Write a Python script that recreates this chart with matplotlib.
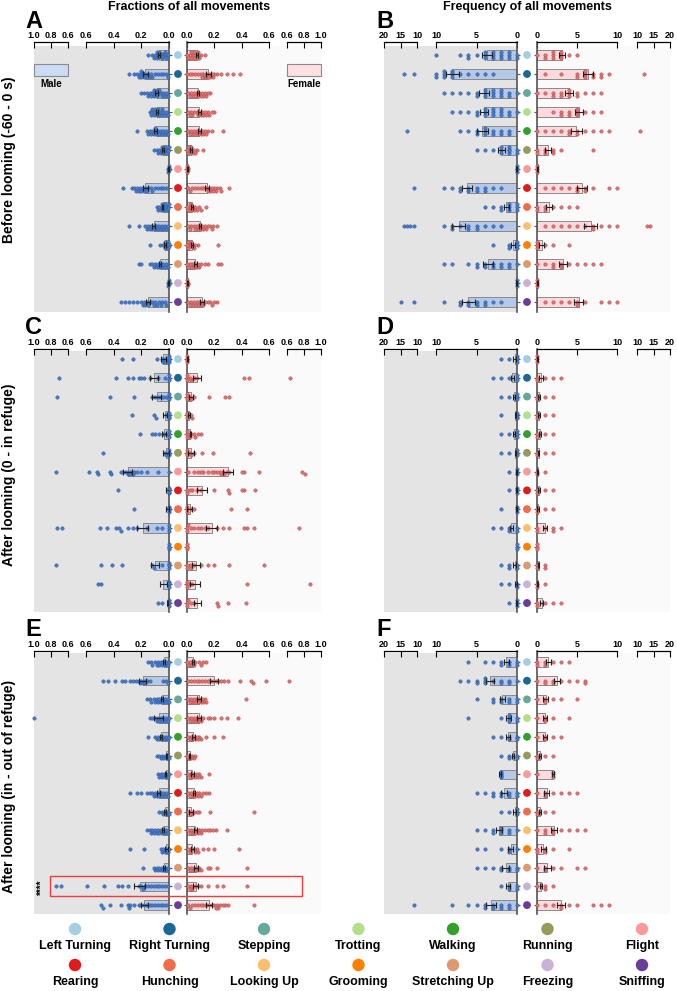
import numpy as np
import matplotlib
matplotlib.use('Agg')
import matplotlib.pyplot as plt
from matplotlib.patches import Rectangle

plt.rcParams['font.family'] = ['Liberation Sans', 'DejaVu Sans']
plt.rcParams['font.weight'] = 'bold'

W, H = 677, 991
fig = plt.figure(figsize=(W / 100, H / 100), dpi=100)

behaviors = ['Left Turning', 'Right Turning', 'Stepping', 'Trotting', 'Walking', 'Running', 'Flight',
             'Rearing', 'Hunching', 'Looking Up', 'Grooming', 'Stretching Up', 'Freezing', 'Sniffing']
beh_colors = ['#a6cee3', '#1a6896', '#66a99b', '#b2df8a', '#33a02c', '#969b5c', '#fb9a99',
              '#e31a1c', '#f26b4a', '#fdbf6f', '#ff7f00', '#dd9a6e', '#cab2d6', '#6a3d9a']

# ---------------- Panel A: fractions, before looming ----------------
A_male = [
    [0.15, 0.12, 0.11, 0.10, 0.09, 0.09, 0.08, 0.08, 0.07, 0.07, 0.07, 0.06, 0.06, 0.05, 0.05, 0.04, 0.04, 0.03, 0.03, 0.02, 0.02, 0.01],
    [0.29, 0.25, 0.23, 0.22, 0.21, 0.20, 0.20, 0.19, 0.19, 0.18, 0.17, 0.16, 0.15, 0.14, 0.13, 0.12, 0.10, 0.08, 0.06, 0.04, 0.02, 0.01],
    [0.20, 0.18, 0.16, 0.15, 0.14, 0.13, 0.12, 0.11, 0.11, 0.10, 0.09, 0.09, 0.08, 0.08, 0.07, 0.06, 0.05, 0.04, 0.03, 0.02, 0.01],
    [0.14, 0.13, 0.12, 0.12, 0.11, 0.10, 0.10, 0.09, 0.08, 0.08, 0.07, 0.06, 0.05, 0.05, 0.04, 0.03, 0.02, 0.01],
    [0.23, 0.16, 0.15, 0.14, 0.13, 0.12, 0.11, 0.10, 0.10, 0.09, 0.08, 0.07, 0.06, 0.05, 0.04, 0.03, 0.02, 0.01],
    [0.11, 0.09, 0.08, 0.07, 0.06, 0.05, 0.05, 0.04, 0.03, 0.03, 0.02, 0.02, 0.01, 0.01, 0.0],
    [0.01, 0.01, 0.0, 0.0, 0.0, 0.0, 0.0],
    [0.33, 0.27, 0.25, 0.24, 0.23, 0.22, 0.21, 0.20, 0.19, 0.18, 0.17, 0.16, 0.15, 0.13, 0.12, 0.10, 0.08, 0.06, 0.04, 0.02],
    [0.09, 0.08, 0.07, 0.06, 0.05, 0.05, 0.04, 0.04, 0.03, 0.03, 0.02, 0.02, 0.01, 0.01, 0.0],
    [0.29, 0.22, 0.17, 0.16, 0.15, 0.14, 0.13, 0.12, 0.11, 0.10, 0.09, 0.08, 0.07, 0.06, 0.05, 0.04, 0.03, 0.02, 0.01],
    [0.14, 0.065, 0.04, 0.03, 0.03, 0.02, 0.02, 0.01, 0.01, 0.01, 0.0, 0.0],
    [0.22, 0.20, 0.14, 0.12, 0.11, 0.10, 0.09, 0.08, 0.07, 0.06, 0.05, 0.04, 0.03, 0.02, 0.01],
    [0.01, 0.005, 0.0, 0.0, 0.0, 0.0],
    [0.35, 0.32, 0.29, 0.26, 0.23, 0.20, 0.19, 0.18, 0.17, 0.16, 0.15, 0.14, 0.12, 0.11, 0.10, 0.09, 0.07, 0.06, 0.05, 0.03, 0.02],
]
A_female = [
    [0.13, 0.10, 0.09, 0.08, 0.08, 0.07, 0.06, 0.06, 0.05, 0.05, 0.04, 0.03, 0.03, 0.02, 0.01, 0.0],
    [0.39, 0.34, 0.29, 0.25, 0.22, 0.20, 0.19, 0.18, 0.17, 0.16, 0.15, 0.14, 0.13, 0.12, 0.11, 0.10, 0.08, 0.06, 0.04, 0.02, 0.0],
    [0.17, 0.15, 0.14, 0.13, 0.12, 0.11, 0.10, 0.09, 0.08, 0.07, 0.06, 0.05, 0.04, 0.03, 0.02, 0.01],
    [0.20, 0.18, 0.16, 0.15, 0.14, 0.13, 0.12, 0.11, 0.10, 0.09, 0.08, 0.07, 0.05, 0.04, 0.03, 0.02, 0.01],
    [0.26, 0.18, 0.15, 0.14, 0.13, 0.12, 0.11, 0.10, 0.09, 0.08, 0.07, 0.06, 0.05, 0.04, 0.03, 0.02, 0.01],
    [0.12, 0.07, 0.06, 0.05, 0.04, 0.03, 0.03, 0.02, 0.02, 0.01, 0.01, 0.0],
    [0.01, 0.005, 0.0, 0.0, 0.0, 0.0],
    [0.31, 0.25, 0.24, 0.22, 0.21, 0.20, 0.19, 0.18, 0.17, 0.16, 0.15, 0.14, 0.12, 0.10, 0.08, 0.06, 0.04, 0.02, 0.01],
    [0.14, 0.10, 0.09, 0.07, 0.06, 0.05, 0.04, 0.03, 0.02, 0.02, 0.01, 0.0],
    [0.22, 0.19, 0.18, 0.17, 0.15, 0.14, 0.13, 0.12, 0.11, 0.10, 0.09, 0.08, 0.07, 0.06, 0.05, 0.03, 0.02, 0.01],
    [0.23, 0.08, 0.06, 0.05, 0.04, 0.03, 0.02, 0.02, 0.01, 0.01, 0.0],
    [0.25, 0.23, 0.155, 0.13, 0.10, 0.09, 0.08, 0.07, 0.06, 0.05, 0.04, 0.03, 0.02, 0.01, 0.0],
    [0.01, 0.005, 0.0, 0.0, 0.0],
    [0.22, 0.20, 0.18, 0.17, 0.15, 0.13, 0.12, 0.11, 0.10, 0.09, 0.08, 0.07, 0.06, 0.05, 0.04, 0.03, 0.02, 0.01],
]
A_male_mean = [0.075, 0.17, 0.09, 0.085, 0.095, 0.045, 0.004, 0.17, 0.045, 0.11, 0.03, 0.065, 0.004, 0.15]
A_male_sem = [0.008, 0.015, 0.01, 0.008, 0.01, 0.006, 0.001, 0.015, 0.005, 0.012, 0.006, 0.01, 0.001, 0.015]
A_female_mean = [0.07, 0.155, 0.08, 0.09, 0.09, 0.03, 0.004, 0.145, 0.035, 0.095, 0.035, 0.06, 0.004, 0.11]
A_female_sem = [0.007, 0.017, 0.009, 0.009, 0.011, 0.005, 0.001, 0.014, 0.006, 0.01, 0.008, 0.01, 0.001, 0.013]

# ---------------- Panel C: fractions, 0 - in refuge ----------------
C_male = [
    [0.34, 0.26, 0.09, 0.05, 0.04, 0.03, 0.02, 0.01, 0, 0, 0, 0],
    [0.71, 0.38, 0.30, 0.26, 0.22, 0.20, 0.18, 0.14, 0.08, 0.03, 0, 0, 0],
    [0.73, 0.43, 0.25, 0.12, 0.10, 0.08, 0.06, 0.04, 0.02, 0, 0, 0],
    [0.27, 0.11, 0.095, 0.02, 0, 0, 0, 0],
    [0.21, 0.12, 0.10, 0.07, 0.04, 0.02, 0, 0, 0],
    [0.48, 0.03, 0.02, 0, 0, 0, 0],
    [0.74, 0.58, 0.52, 0.51, 0.43, 0.42, 0.35, 0.33, 0.31, 0.30, 0.29, 0.28, 0.27, 0.26, 0.25, 0.23, 0.20, 0.16, 0.08, 0.0],
    [0.37, 0, 0, 0, 0, 0],
    [0.25, 0, 0, 0, 0, 0],
    [0.73, 0.67, 0.50, 0.45, 0.38, 0.36, 0.35, 0.30, 0.26, 0.23, 0.16, 0.09, 0.05, 0, 0, 0],
    [0, 0, 0, 0],
    [0.74, 0.49, 0.41, 0.34, 0.12, 0.11, 0.05, 0, 0, 0, 0],
    [0.51, 0.49, 0, 0, 0, 0],
    [0.08, 0.05, 0, 0, 0, 0],
]
C_female = [
    [0, 0, 0, 0, 0],
    [0.64, 0.45, 0.42, 0.07, 0.05, 0.03, 0.02, 0, 0, 0],
    [0.31, 0.28, 0.16, 0.05, 0.03, 0.02, 0, 0, 0],
    [0.04, 0.03, 0.01, 0, 0, 0],
    [0.10, 0.08, 0.06, 0.05, 0.03, 0.02, 0.01, 0, 0, 0],
    [0.46, 0.19, 0.11, 0.05, 0.03, 0.02, 0, 0, 0],
    [0.81, 0.78, 0.53, 0.42, 0.40, 0.31, 0.29, 0.27, 0.26, 0.25, 0.24, 0.22, 0.20, 0.18, 0.15, 0.12, 0.10, 0.08, 0.05, 0.01],
    [0.50, 0.42, 0.40, 0.31, 0.30, 0.20, 0.10, 0.07, 0.04, 0.02, 0, 0],
    [0.44, 0.32, 0.05, 0.03, 0, 0, 0],
    [0.74, 0.49, 0.44, 0.42, 0.31, 0.26, 0.22, 0.15, 0.13, 0.10, 0.08, 0.05, 0.03, 0.01, 0, 0],
    [0, 0, 0, 0],
    [0.56, 0.31, 0.20, 0.15, 0.10, 0.05, 0.03, 0.02, 0, 0],
    [0.87, 0.44, 0.04, 0.02, 0, 0, 0],
    [0.43, 0.30, 0.23, 0.22, 0.05, 0.03, 0.01, 0, 0],
]
C_male_mean = [0.04, 0.11, 0.09, 0.03, 0.035, 0.02, 0.30, 0.01, 0.01, 0.19, 0.0, 0.10, 0.04, 0.01]
C_male_sem = [0.015, 0.03, 0.035, 0.012, 0.012, 0.02, 0.035, 0.015, 0.01, 0.04, 0.0, 0.03, 0.025, 0.005]
C_female_mean = [0.003, 0.075, 0.03, 0.015, 0.025, 0.03, 0.30, 0.11, 0.02, 0.18, 0.0, 0.065, 0.06, 0.075]
C_female_sem = [0.002, 0.03, 0.015, 0.005, 0.006, 0.02, 0.04, 0.035, 0.02, 0.04, 0.0, 0.03, 0.035, 0.025]

# ---------------- Panel E: fractions, in - out of refuge ----------------
E_male = [
    [0.15, 0.13, 0.12, 0.10, 0.09, 0.08, 0.07, 0.06, 0.05, 0.04, 0.03, 0.02, 0.01, 0.0],
    [0.48, 0.44, 0.39, 0.34, 0.32, 0.28, 0.26, 0.24, 0.22, 0.21, 0.20, 0.19, 0.18, 0.17, 0.16, 0.14, 0.04, 0.02, 0.01],
    [0.16, 0.14, 0.13, 0.11, 0.10, 0.09, 0.08, 0.07, 0.06, 0.05, 0.04, 0.03, 0.02, 0.01, 0.0],
    [1.0, 0.14, 0.12, 0.10, 0.09, 0.08, 0.07, 0.06, 0.05, 0.04, 0.03, 0.02, 0.01, 0.0],
    [0.15, 0.10, 0.09, 0.08, 0.07, 0.06, 0.05, 0.04, 0.03, 0.02, 0.01, 0.0],
    [0.09, 0.07, 0.06, 0.05, 0.04, 0.03, 0.02, 0.01, 0.0],
    [0.08, 0.07, 0.06, 0.05, 0.04, 0.03, 0.02, 0.01, 0.0],
    [0.28, 0.23, 0.20, 0.16, 0.14, 0.12, 0.11, 0.10, 0.09, 0.08, 0.07, 0.06, 0.05, 0.04, 0.03, 0.02, 0.01],
    [0.07, 0.05, 0.04, 0.03, 0.02, 0.01, 0.0],
    [0.16, 0.14, 0.13, 0.12, 0.11, 0.10, 0.09, 0.08, 0.07, 0.06, 0.05, 0.04, 0.03, 0.02, 0.01],
    [0.28, 0.18, 0.06, 0.05, 0.04, 0.03, 0.02, 0.01, 0.0],
    [0.19, 0.11, 0.10, 0.09, 0.08, 0.07, 0.06, 0.05, 0.04, 0.03, 0.02, 0.01],
    [0.74, 0.68, 0.59, 0.47, 0.37, 0.34, 0.30, 0.22, 0.20, 0.19, 0.17, 0.15, 0.13, 0.11, 0.09, 0.07, 0.05, 0.03, 0.01],
    [0.49, 0.48, 0.43, 0.35, 0.30, 0.29, 0.28, 0.25, 0.22, 0.20, 0.18, 0.16, 0.14, 0.12, 0.10, 0.08, 0.06, 0.04, 0.02],
]
E_female = [
    [0.14, 0.12, 0.10, 0.09, 0.06, 0.05, 0.04, 0.03, 0.02, 0.01, 0.0],
    [0.62, 0.58, 0.48, 0.47, 0.39, 0.30, 0.27, 0.25, 0.23, 0.21, 0.19, 0.17, 0.15, 0.13, 0.11, 0.09, 0.07, 0.05, 0.03, 0.01],
    [0.43, 0.14, 0.13, 0.12, 0.11, 0.10, 0.09, 0.08, 0.07, 0.06, 0.05, 0.04, 0.03, 0.02, 0.01],
    [0.37, 0.29, 0.25, 0.20, 0.17, 0.15, 0.12, 0.10, 0.09, 0.08, 0.07, 0.06, 0.05, 0.04, 0.03, 0.02, 0.01],
    [0.26, 0.20, 0.14, 0.10, 0.09, 0.08, 0.07, 0.06, 0.05, 0.04, 0.03, 0.02, 0.01],
    [0.06, 0.05, 0.04, 0.03, 0.02, 0.01, 0.0],
    [0.16, 0.10, 0.09, 0.08, 0.07, 0.06, 0.05, 0.04, 0.03, 0.02, 0.01],
    [0.16, 0.14, 0.12, 0.10, 0.09, 0.08, 0.07, 0.06, 0.05, 0.04, 0.03, 0.02, 0.01],
    [0.49, 0.17, 0.09, 0.07, 0.05, 0.04, 0.03, 0.02, 0.01],
    [0.29, 0.21, 0.19, 0.17, 0.15, 0.13, 0.11, 0.10, 0.09, 0.08, 0.07, 0.06, 0.05, 0.04, 0.03, 0.02, 0.01],
    [0.38, 0.20, 0.15, 0.12, 0.08, 0.07, 0.06, 0.05, 0.03, 0.02, 0.01],
    [0.44, 0.22, 0.17, 0.15, 0.10, 0.09, 0.08, 0.07, 0.06, 0.05, 0.04, 0.03, 0.02, 0.01],
    [0.44, 0.26, 0.22, 0.15, 0.10, 0.08, 0.06, 0.04, 0.03, 0.02, 0.01],
    [0.49, 0.30, 0.28, 0.26, 0.24, 0.23, 0.22, 0.21, 0.20, 0.18, 0.16, 0.14, 0.12, 0.10, 0.08, 0.06, 0.04, 0.02, 0.01],
]
E_male_mean = [0.035, 0.19, 0.05, 0.075, 0.055, 0.02, 0.025, 0.075, 0.03, 0.045, 0.02, 0.035, 0.21, 0.18]
E_male_sem = [0.008, 0.025, 0.008, 0.035, 0.008, 0.005, 0.006, 0.012, 0.005, 0.008, 0.01, 0.008, 0.04, 0.025]
E_female_mean = [0.045, 0.20, 0.09, 0.09, 0.045, 0.02, 0.04, 0.05, 0.03, 0.06, 0.04, 0.065, 0.065, 0.16]
E_female_sem = [0.008, 0.03, 0.015, 0.015, 0.01, 0.004, 0.008, 0.008, 0.015, 0.012, 0.014, 0.017, 0.018, 0.02]

# ---------------- Panel B: frequency, before looming ----------------
B_male = [
    [10, 7, 6, 6, 5, 4, 4, 4, 3, 3, 3, 2, 2, 2, 1, 1, 1, 0, 0],
    [14, 11, 10, 10, 9, 9, 9, 8, 8, 8, 8, 7, 6, 5, 4, 3],
    [9, 8, 7, 6, 5, 5, 4, 4, 4, 3, 3, 3, 2, 2, 2, 1, 1, 0],
    [8, 7, 6, 5, 5, 4, 4, 4, 3, 3, 3, 2, 2, 2, 1, 1, 0],
    [13, 7, 6, 5, 5, 4, 4, 4, 3, 3, 2, 2, 1, 1],
    [5, 4, 3, 2, 2, 2, 1, 1, 1, 1, 0, 0],
    [0, 0, 0, 0],
    [11, 9, 8, 7, 7, 6, 6, 5, 5, 4, 4, 3, 2],
    [4, 3, 2, 2, 1, 1, 1, 0, 0, 0],
    [14, 13, 12, 11, 9, 8, 8, 7, 6, 6, 5, 5, 4, 3, 2],
    [3, 1, 1, 0, 0, 0, 0],
    [9, 8, 6, 5, 5, 4, 4, 3, 3, 2, 2, 1, 1, 0],
    [0, 0, 0],
    [15, 11, 9, 7, 7, 6, 6, 5, 5, 4, 4, 3, 2],
]
B_female = [
    [5, 4, 3, 3, 3, 3, 2, 2, 2, 1, 1, 0],
    [12, 9, 8, 8, 7, 7, 6, 6, 6, 5, 5, 3, 1],
    [8, 7, 6, 5, 5, 4, 4, 4, 3, 3, 2, 2, 1, 0],
    [8, 7, 6, 5, 5, 5, 4, 4, 3, 3, 2],
    [11, 9, 8, 7, 6, 5, 5, 4, 4, 3, 2, 1, 0],
    [7, 3, 2, 2, 1, 1, 0, 0],
    [0, 0, 0],
    [10, 9, 7, 6, 6, 5, 5, 4, 3, 2, 1],
    [5, 4, 3, 2, 1, 1, 0, 0],
    [14, 13, 10, 9, 8, 7, 7, 6, 5, 4, 3, 2, 1],
    [4, 2, 1, 0, 0, 0],
    [8, 7, 6, 5, 4, 3, 3, 2, 2, 1, 0],
    [0, 0, 0],
    [10, 9, 8, 6, 5, 5, 4, 3, 2, 1],
]
B_male_mean = [3.7, 8.0, 4.1, 4.1, 4.3, 1.9, 0.1, 6.2, 1.3, 7.2, 0.5, 3.6, 0.1, 6.0]
B_male_sem = [0.6, 0.8, 0.6, 0.5, 0.7, 0.4, 0.05, 0.6, 0.3, 0.8, 0.2, 0.6, 0.05, 0.8]
B_female_mean = [3.1, 6.4, 4.0, 5.2, 4.9, 1.4, 0.1, 5.6, 1.5, 6.7, 0.6, 3.3, 0.1, 5.2]
B_female_sem = [0.4, 0.6, 0.5, 0.5, 0.7, 0.4, 0.05, 0.6, 0.4, 0.8, 0.3, 0.5, 0.05, 0.6]

# ---------------- Panel D: frequency, 0 - in refuge ----------------
D_male = [[2, 1, 0, 0, 0, 0], [3, 2, 1, 0, 0, 0], [2, 1, 0, 0, 0], [2, 0, 0, 0, 0], [2, 1, 0, 0, 0],
          [2, 1, 0, 0, 0], [1, 0, 0, 0], [1, 0, 0, 0], [2, 0, 0, 0], [3, 2, 1, 1, 0, 0], [0, 0, 0],
          [2, 1, 1, 0, 0], [2, 1, 0, 0], [1, 0, 0, 0]]
D_female = [[0, 0, 0], [3, 2, 1, 0, 0], [2, 1, 0, 0], [2, 1, 0, 0], [2, 1, 0, 0], [2, 1, 0, 0], [1, 0, 0],
            [2, 1, 0, 0], [2, 1, 0, 0], [3, 2, 2, 1, 0, 0], [0, 0, 0], [1, 1, 0, 0], [1, 0, 0], [3, 2, 1, 0, 0]]
D_male_mean = [0.3, 0.6, 0.4, 0.2, 0.4, 0.2, 0.1, 0.1, 0.1, 0.7, 0.02, 0.3, 0.15, 0.1]
D_male_sem = [0.15, 0.2, 0.15, 0.1, 0.15, 0.1, 0.05, 0.05, 0.08, 0.2, 0.0, 0.15, 0.1, 0.05]
D_female_mean = [0.05, 0.5, 0.3, 0.3, 0.4, 0.2, 0.1, 0.3, 0.1, 1.0, 0.02, 0.2, 0.1, 0.6]
D_female_sem = [0.05, 0.2, 0.12, 0.12, 0.15, 0.1, 0.05, 0.12, 0.1, 0.2, 0.0, 0.1, 0.05, 0.2]

# ---------------- Panel F: frequency, in - out of refuge ----------------
F_male = [[6, 4, 3, 2, 2, 1, 1, 0, 0], [7, 6, 5, 5, 4, 4, 4, 3, 2, 2, 1, 1, 0], [5, 3, 3, 2, 2, 1, 1, 0, 0],
          [6, 2, 1, 1, 1, 0, 0], [3, 2, 1, 1, 0, 0], [2, 1, 1, 0, 0], [2, 2, 2, 2, 2],
          [5, 4, 3, 3, 2, 2, 1, 1, 0, 0], [2, 1, 0, 0, 0], [5, 4, 3, 3, 2, 2, 2, 1, 1, 0],
          [5, 4, 2, 1, 1, 0], [5, 4, 3, 2, 2, 1, 1, 0, 0], [2, 1, 1, 0, 0],
          [11, 8, 6, 5, 4, 4, 3, 3, 2, 2, 1, 1, 0]]
F_female = [[4, 3, 2, 1, 1, 0, 0], [6, 6, 5, 4, 3, 2, 2, 1, 1, 0], [5, 3, 2, 1, 1, 0], [4, 2, 1, 1, 0],
            [3, 2, 1, 1, 0], [2, 1, 0, 0], [2, 2, 2, 0], [5, 4, 3, 2, 1, 1, 0], [2, 1, 0, 0],
            [6, 5, 4, 3, 2, 2, 1, 1, 0], [4, 2, 1, 1, 0, 0], [6, 5, 3, 2, 1, 1, 0], [2, 1, 1, 0],
            [9, 8, 7, 5, 4, 3, 3, 2, 1, 0]]
F_male_mean = [1.3, 3.3, 1.8, 1.1, 1.1, 0.5, 2.1, 1.6, 0.3, 2.2, 0.8, 1.4, 1.1, 3.2]
F_male_sem = [0.35, 0.5, 0.35, 0.3, 0.25, 0.15, 0.1, 0.35, 0.15, 0.4, 0.35, 0.4, 0.2, 0.6]
F_female_mean = [1.4, 2.5, 1.1, 1.0, 1.0, 0.4, 2.0, 1.2, 0.4, 2.1, 0.8, 1.3, 0.5, 3.0]
F_female_sem = [0.3, 0.4, 0.3, 0.25, 0.25, 0.15, 0.1, 0.3, 0.15, 0.4, 0.3, 0.4, 0.15, 0.5]

# ---------------- styling ----------------
MALE_DOT, MALE_EDGE = '#4a7cc7', '#2b57a0'
FEM_DOT, FEM_EDGE = '#e07474', '#b04a4a'
MALE_BAR, FEM_BAR = '#b5c8e8', '#fcdadd'
BAR_EDGE = '#8a8a8a'
BG_L, BG_R = '#e4e4e4', '#fafafa'
SPINE_C = '#555555'


def frect(x0, y0, x1, y1):
    return [x0 / W, 1 - y1 / H, (x1 - x0) / W, (y1 - y0) / H]


def swarm(px, d=3.1, maxoff=4.6):
    px = np.asarray(px, float)
    offs = np.zeros(len(px))
    step = d * 0.85
    cands = [0.0]
    k = 1
    while k * step <= maxoff:
        cands += [k * step, -k * step]
        k += 1
    placed = []
    for n, i in enumerate(np.argsort(px, kind='stable')):
        chosen = None
        for c in cands:
            if all((px[i] - px[j]) ** 2 + (c - offs[j]) ** 2 >= step ** 2 for j in placed):
                chosen = c
                break
        if chosen is None:
            chosen = cands[n % len(cands)] * 0.5
        offs[i] = chosen
        placed.append(i)
    return offs


COLS = {
    0: dict(LO=(34, 68, 1.0, 0.6), LI=(86, 169, 0.6, 0.0), RI=(187, 269, 0.0, 0.6), RO=(287, 321, 0.6, 1.0),
            cx=(169, 187), brk=0.6, ti=[0.0, 0.2, 0.4, 0.6], to=[0.6, 0.8, 1.0], fmt='{:.1f}'),
    1: dict(LO=(384, 417, 20, 10), LI=(436, 517, 10, 0), RI=(537, 617, 0, 10), RO=(637, 670, 10, 20),
            cx=(517, 537), brk=10, ti=[0, 5, 10], to=[10, 15, 20], fmt='{:d}'),
}
ROWS = {
    0: dict(top=42, bg=46, r0=55, sp=19.0, bot=312),
    1: dict(top=349, bg=351, r0=359, sp=18.77, bot=612),
    2: dict(top=651, bg=653, r0=662, sp=18.7, bot=914),
}


def make_ax(spec, rs, side, ticks, fmt, inner):
    x0, x1, a, b = spec
    ax = fig.add_axes(frect(x0, rs['top'], x1, rs['bot']))
    ax.set_facecolor('none')
    ax.set_xlim(a, b)
    ax.set_ylim((rs['bot'] - rs['r0']) / rs['sp'], (rs['top'] - rs['r0']) / rs['sp'])
    for s in ['bottom', 'left', 'right']:
        ax.spines[s].set_visible(False)
    ax.spines['top'].set_linewidth(0.9)
    ax.xaxis.tick_top()
    ax.set_xticks(ticks)
    ax.set_xticklabels([fmt.format(t) for t in ticks])
    ax.tick_params(axis='x', direction='in', length=4, width=0.8, labelsize=6.5, pad=1.5)
    if inner:
        sp = 'right' if side == 'L' else 'left'
        ax.spines[sp].set_visible(True)
        ax.spines[sp].set_color(SPINE_C)
        ax.spines[sp].set_linewidth(1.2)
        if side == 'L':
            ax.yaxis.tick_right()
        else:
            ax.yaxis.tick_left()
        ax.set_yticks(range(14))
        ax.set_yticklabels([])
        ax.tick_params(axis='y', direction='out', length=2.5, width=0.8, color=SPINE_C)
    else:
        ax.set_yticks([])
    return ax


def px_of(v, spec):
    x0, x1, a, b = spec
    return x0 + (v - a) / (b - a) * (x1 - x0)


def draw_panel(col, row, male, female, mm, ms, fm, fs, letter):
    c = COLS[col]
    rs = ROWS[row]
    fig.add_artist(Rectangle((c['LO'][0] / W, 1 - rs['bot'] / H), (c['LI'][1] - c['LO'][0]) / W,
                             (rs['bot'] - rs['bg']) / H, transform=fig.transFigure,
                             facecolor=BG_L, edgecolor='none', zorder=-5))
    fig.add_artist(Rectangle((c['RI'][0] / W, 1 - rs['bot'] / H), (c['RO'][1] - c['RI'][0]) / W,
                             (rs['bot'] - rs['bg']) / H, transform=fig.transFigure,
                             facecolor=BG_R, edgecolor='none', zorder=-5))
    axLO = make_ax(c['LO'], rs, 'L', c['to'], c['fmt'], False)
    axLI = make_ax(c['LI'], rs, 'L', c['ti'], c['fmt'], True)
    axRI = make_ax(c['RI'], rs, 'R', c['ti'], c['fmt'], True)
    axRO = make_ax(c['RO'], rs, 'R', c['to'], c['fmt'], False)
    axC = fig.add_axes(frect(c['cx'][0], rs['top'], c['cx'][1], rs['bot']))
    axC.set_xlim(0, 1)
    axC.set_ylim((rs['bot'] - rs['r0']) / rs['sp'], (rs['top'] - rs['r0']) / rs['sp'])
    axC.axis('off')
    axC.scatter([0.5] * 14, range(14), s=32, c=beh_colors, edgecolors='none', zorder=3)

    rows_idx = np.arange(14)
    axLI.barh(rows_idx, mm, height=0.5, color=MALE_BAR, edgecolor=BAR_EDGE, linewidth=0.7, zorder=2)
    axRI.barh(rows_idx, fm, height=0.5, color=FEM_BAR, edgecolor=BAR_EDGE, linewidth=0.7, zorder=2)

    for r in range(14):
        for vals, axI, axO, specI, specO, fc, ec in [
                (male[r], axLI, axLO, c['LI'], c['LO'], MALE_DOT, MALE_EDGE),
                (female[r], axRI, axRO, c['RI'], c['RO'], FEM_DOT, FEM_EDGE)]:
            vals = np.asarray(vals, float)
            inner = vals[vals <= c['brk']]
            outer = vals[vals > c['brk']]
            for grp, axx, spec in [(inner, axI, specI), (outer, axO, specO)]:
                if len(grp) == 0:
                    continue
                offs = swarm(px_of(grp, spec)) / rs['sp']
                axx.scatter(grp, r + offs, s=6, c=fc, edgecolors=ec, linewidths=0.35,
                            zorder=3, clip_on=False)
        if ms[r] > 0:
            axLI.errorbar(mm[r], r, xerr=ms[r], fmt='none', ecolor='#222222', elinewidth=0.8,
                          capsize=2.5, capthick=0.8, zorder=4)
        if fs[r] > 0:
            axRI.errorbar(fm[r], r, xerr=fs[r], fmt='none', ecolor='#222222', elinewidth=0.8,
                          capsize=2.5, capthick=0.8, zorder=4)
    lx = 25 if col == 0 else 376
    ly = [21, 328, 630][row]
    fig.text(lx / W, 1 - ly / H, letter, fontsize=17, fontweight='bold', ha='left', va='center')


draw_panel(0, 0, A_male, A_female, A_male_mean, A_male_sem, A_female_mean, A_female_sem, 'A')
draw_panel(1, 0, B_male, B_female, B_male_mean, B_male_sem, B_female_mean, B_female_sem, 'B')
draw_panel(0, 1, C_male, C_female, C_male_mean, C_male_sem, C_female_mean, C_female_sem, 'C')
draw_panel(1, 1, D_male, D_female, D_male_mean, D_male_sem, D_female_mean, D_female_sem, 'D')
draw_panel(0, 2, E_male, E_female, E_male_mean, E_male_sem, E_female_mean, E_female_sem, 'E')
draw_panel(1, 2, F_male, F_female, F_male_mean, F_male_sem, F_female_mean, F_female_sem, 'F')

# column titles
fig.text(189 / W, 1 - 7 / H, 'Fractions of all movements', fontsize=9, fontweight='bold', ha='center', va='center')
fig.text(527 / W, 1 - 7 / H, 'Frequency of all movements', fontsize=9, fontweight='bold', ha='center', va='center')

# row titles
row_titles = ['Before looming (-60 - 0 s)', 'After looming (0 - in refuge)', 'After looming (in - out of refuge)']
for t, yc in zip(row_titles, [160, 475, 786]):
    fig.text(9 / W, 1 - yc / H, t, fontsize=10, fontweight='bold', rotation=90, ha='center', va='center')

# Male / Female key in panel A
fig.add_artist(Rectangle((34 / W, 1 - 76 / H), 34 / W, 12 / H, transform=fig.transFigure,
                         facecolor='#c9dcf3', edgecolor='#8a8a8a', linewidth=0.8))
fig.add_artist(Rectangle((287 / W, 1 - 76 / H), 34 / W, 12 / H, transform=fig.transFigure,
                         facecolor='#fde0e2', edgecolor='#8a8a8a', linewidth=0.8))
fig.text(40 / W, 1 - 84 / H, 'Male', fontsize=7, fontweight='bold', ha='left', va='center')
fig.text(304 / W, 1 - 84 / H, 'Female', fontsize=7, fontweight='bold', ha='center', va='center')

# highlight box on Freezing row of panel E
fig.add_artist(Rectangle((50 / W, 1 - 896 / H), 252 / W, 20 / H, transform=fig.transFigure,
                         facecolor='none', edgecolor='#ee3b3b', linewidth=1.0))
fig.text(42 / W, 1 - 887 / H, '****', fontsize=7, fontweight='bold', rotation=90, ha='center', va='center')

# bottom legend
axL = fig.add_axes([0, 0, 1, 1])
axL.set_xlim(0, W)
axL.set_ylim(H, 0)
axL.axis('off')
axL.set_zorder(-10)
for i, (name, colr) in enumerate(zip(behaviors, beh_colors)):
    rr, cc = divmod(i, 7)
    x = 75 + 94.5 * cc
    yd = [929, 965][rr]
    axL.scatter([x], [yd], s=80, c=[colr], edgecolors='none')
    axL.text(x, yd + 17, name, fontsize=9, fontweight='bold', ha='center', va='center')

fig.savefig('out.png', dpi=100)
